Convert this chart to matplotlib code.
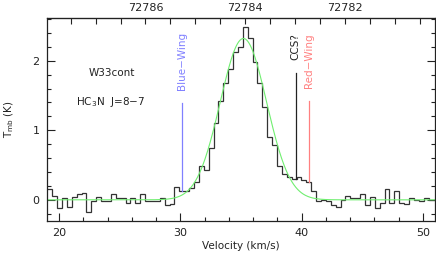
import numpy as np
import matplotlib
matplotlib.use("Agg")
import matplotlib.pyplot as plt
from matplotlib.ticker import MultipleLocator, FixedLocator, FormatStrFormatter

# spectrum channels (km/s)
v_start = 19.03
dv = 0.403
tmb = [0.15, 0.06, -0.12, 0.02, -0.11, 0.04, 0.08, 0.10, -0.17, -0.01,
       0.04, -0.02, -0.02, 0.09, 0.02, 0.03, -0.05, 0.02, -0.05, 0.08,
       -0.01, -0.02, -0.01, 0.02, -0.07, -0.06, 0.19, 0.12, 0.13, 0.17,
       0.26, 0.48, 0.43, 0.74, 1.10, 1.42, 1.68, 1.88, 2.13, 2.20,
       2.48, 2.33, 1.98, 1.68, 1.33, 0.90, 0.79, 0.48, 0.37, 0.33,
       0.30, 0.33, 0.28, 0.25, 0.13, -0.01, 0.00, -0.01, -0.07, -0.10,
       0.00, 0.06, 0.02, 0.02, 0.09, -0.08, 0.04, -0.12, -0.05, 0.15,
       -0.04, 0.12, -0.04, -0.06, 0.03, 0.00, -0.01, 0.02, 0.00, 0.00]

# gaussian fit (green)
fit_amp = 2.32
fit_v = 35.2
fit_fwhm = 4.5

# markers: name, velocity, top of line, label bottom, colour
marks = [("Blue\u2212Wing", 30.16, 1.39, 1.58, "#8080ff"),
         ("CCS?", 39.52, 1.82, 2.01, "#222222"),
         ("Red\u2212Wing", 40.64, 1.42, 1.61, "#ff8080")]

# top axis: frequency (MHz)
f_ref = 72784.0
v_ref = 35.36
kms_per_mhz = 4.119
f_labels = [72782, 72784, 72786]

plt.rcParams['font.family'] = ['DejaVu Sans']
plt.rcParams['font.size'] = 7.5
plt.rcParams['mathtext.fontset'] = 'dejavusans'

fig = plt.figure(figsize=(4.36, 2.54), dpi=100)
ax = fig.add_axes([47/436, 1 - 220.7/254, 388/436, 202.4/254])

edges = v_start + dv*np.arange(len(tmb) + 1)
ax.stairs(tmb, edges, baseline=None, color="#333333", lw=0.9)

vv = np.linspace(19, 51, 600)
sig = fit_fwhm/2.3548
ax.plot(vv, fit_amp*np.exp(-(vv - fit_v)**2/(2*sig**2)), color="#70ee70", lw=0.8)

for name, v, top, lab, col in marks:
    i = int((v - v_start)/dv)
    ax.plot([v, v], [tmb[i], top], color=col, lw=0.9)
    ax.text(v, lab, name, rotation=90, ha="center", va="bottom", color=col)

ax.text(24.36, 1.83, "W33cont", ha="center", va="center", color="#222222")
ax.text(24.28, 1.41, "HC$_3$N  J=8\u22127", ha="center", va="center", color="#222222")

ax.set_xlim(19, 51)
ax.set_ylim(-0.3, 2.61)
ax.xaxis.set_major_locator(MultipleLocator(10))
ax.xaxis.set_minor_locator(MultipleLocator(2))
ax.yaxis.set_major_locator(MultipleLocator(1))
ax.yaxis.set_minor_locator(MultipleLocator(0.2))
ax.tick_params(which="both", direction="in", top=False, right=True,
               colors="#222222", labelcolor="#222222", labelsize=8)
ax.tick_params(which="major", length=5.5, width=0.8, pad=5.5)
ax.tick_params(which="minor", length=3, width=0.8)
for s in ax.spines.values():
    s.set_color("#222222")
    s.set_linewidth(0.9)

ax.set_xlabel("Velocity (km/s)", color="#222222", labelpad=2)
ax.set_ylabel("T$_{\\mathrm{mb}}$ (K)", color="#222222", labelpad=12)

def v2f(v):
    return f_ref - (v - v_ref)/kms_per_mhz

def f2v(f):
    return v_ref - (f - f_ref)*kms_per_mhz

top = ax.secondary_xaxis("top", functions=(v2f, f2v))
top.xaxis.set_major_locator(FixedLocator(f_labels))
top.xaxis.set_minor_locator(MultipleLocator(0.5))
top.xaxis.set_major_formatter(FormatStrFormatter("%.0f"))
top.tick_params(which="both", direction="in", colors="#222222",
                labelcolor="#222222", labelsize=8)
top.tick_params(which="major", length=4.5, width=0.8, pad=3.5)
top.tick_params(which="minor", length=4, width=0.8)
top.spines["top"].set_color("#222222")

fig.savefig("out.png", dpi=100)
